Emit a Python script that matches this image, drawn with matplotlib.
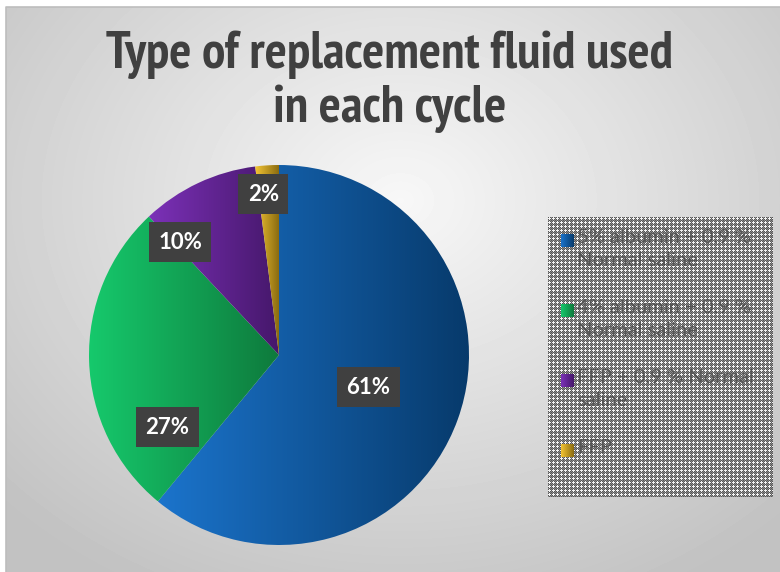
import numpy as np
import matplotlib
matplotlib.use('Agg')
import matplotlib.pyplot as plt
from matplotlib import font_manager as fm
from matplotlib.colors import LinearSegmentedColormap

# chart data
title = 'Type of replacement fluid used\nin each cycle'
labels = ['5% albumin + 0.9 %\nNormal saline',
          '4% albumin + 0.9 %\nNormal saline',
          'FFP + 0.9 % Normal\nsaline',
          'FFP']
values = [61, 27, 10, 2]

# gradient colours (light -> dark) per slice
light = ['#1b74cc', '#16c96c', '#7c31b8', '#f4c534']
dark = ['#073a6b', '#0e7a3c', '#45176a', '#8a6b10']

# where the data labels sit (fraction of radius, extra turn in degrees)
label_dist = [0.5, 0.7, 0.79, 0.85]
label_turn = [0, 31, 16, 2]

# pick a narrow bold font for the title if one is installed
title_font = dict(family='Liberation Sans', fontsize=25)
narrow = [f for f in fm.fontManager.ttflist
          if ('Narrow' in f.fname or 'ondensed' in f.fname) and f.weight in (600, 700, 'bold')]
narrow.sort(key=lambda f: ('Narrow' not in f.fname, 'DejaVu' in f.fname, f.fname))
if narrow:
    title_font = dict(fname=narrow[0].fname)

W, H = 780, 572
fig = plt.figure(figsize=(W / 100, H / 100), dpi=100)
fig.patch.set_facecolor('white')

# background in pixel coordinates
bg = fig.add_axes([0, 0, 1, 1])
bg.set_xlim(0, W)
bg.set_ylim(H, 0)
bg.axis('off')

yy, xx = np.mgrid[7:H, 6:W]
d = np.sqrt(((xx - 400) / 520.0) ** 2 + ((yy - 200) / 420.0) ** 2)
shade = np.clip(0.97 - 0.2 * d, 0.76, 0.97)
bg.imshow(shade, cmap='gray', vmin=0, vmax=1, extent=[6, W, H, 7],
          interpolation='bilinear', aspect='auto', zorder=0)
bg.plot([6, 6, W], [H, 7, 7], color='#bdbdbd', lw=1.2, zorder=1)

# patterned legend box
lx0, lx1, ly0, ly1 = 548, 773, 217, 497
tile = np.array([[0.35, 0.95, 0.35, 0.55],
                 [0.95, 0.95, 0.95, 0.35],
                 [0.35, 0.95, 0.35, 0.55],
                 [0.55, 0.35, 0.55, 0.35]])
pat = np.tile(tile, ((ly1 - ly0) // 4 + 1, (lx1 - lx0) // 4 + 1))[:ly1 - ly0, :lx1 - lx0]
bg.imshow(pat, cmap='gray', vmin=0, vmax=1, extent=[lx0, lx1, ly1, ly0],
          interpolation='nearest', aspect='auto', zorder=2)


def grad_box(axis, x0, x1, y0, y1, c0, c1, z, clip=None):
    cm = LinearSegmentedColormap.from_list('g', [c0, c1])
    g = np.linspace(0, 1, 256).reshape(1, -1)
    im = axis.imshow(g, cmap=cm, extent=[x0, x1, y0, y1], aspect='auto',
                     interpolation='bilinear', zorder=z)
    if clip is not None:
        im.set_clip_path(clip)
    return im


# legend entries
for i, lab in enumerate(labels):
    ty = 229 + i * 70
    grad_box(bg, 561, 574, ty + 18, ty + 5, light[i], dark[i], 3)
    bg.text(577, ty, lab, ha='left', va='top', fontsize=14.5, family='Lato',
            color='#555555', linespacing=1.45, zorder=4)

# title
if 'fname' in title_font:
    fp = fm.FontProperties(fname=title_font['fname'], size=37.5)
else:
    fp = fm.FontProperties(family=title_font['family'], weight='bold',
                           size=title_font['fontsize'])
t = fig.text(0.5, 0.857, title, ha='center', va='center', fontproperties=fp,
             color='#404040', linespacing=1.15)
# shrink the title if it would not fit in the frame
r = fig.canvas.get_renderer()
tw = t.get_window_extent(r).width
if tw > 600:
    fp.set_size(fp.get_size() * 590 / tw)
    t.set_fontproperties(fp)

# pie
ax = fig.add_axes([89 / W, (H - 545) / H, 380 / W, 380 / H])
wedges, _ = ax.pie(values, startangle=90, counterclock=False, radius=1,
                   wedgeprops=dict(linewidth=0))
for i, w in enumerate(wedges):
    ext = w.get_path().get_extents()
    w.set_facecolor('none')
    grad_box(ax, ext.x0, ext.x1, ext.y0, ext.y1, light[i], dark[i], 2, clip=w)

    ang = np.deg2rad((w.theta1 + w.theta2) / 2 + label_turn[i])
    ax.text(label_dist[i] * np.cos(ang), label_dist[i] * np.sin(ang),
            f'{values[i]}%', ha='center', va='center', fontsize=16,
            family='Lato', weight='bold', color='white', zorder=5,
            bbox=dict(boxstyle='square,pad=0.42', fc='#404040', ec='none'))

ax.set_xlim(-1, 1)
ax.set_ylim(-1, 1)
ax.set_aspect('auto')
ax.axis('off')

fig.savefig('out.png', dpi=100)
